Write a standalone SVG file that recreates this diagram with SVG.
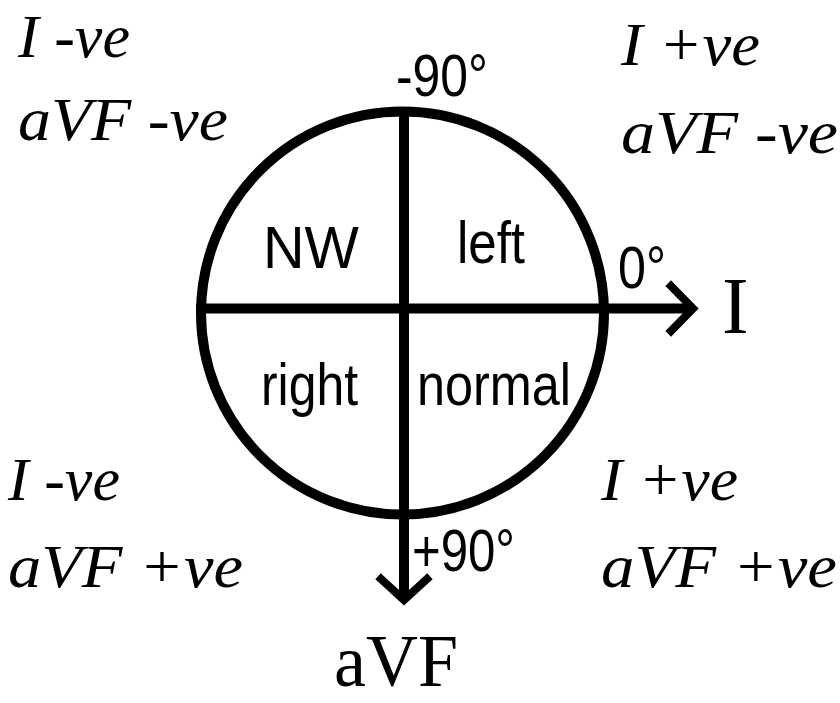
<svg xmlns="http://www.w3.org/2000/svg" width="840" height="703" viewBox="0 0 840 703">
<style>
.ser{font-family:"Liberation Serif","Times New Roman",serif;font-style:italic;font-size:62px;fill:#000}
.san{font-family:"Liberation Sans",Arial,sans-serif;font-size:60px;fill:#000}
.big{font-family:"Liberation Serif","Times New Roman",serif;font-size:80px;fill:#000}
.ln{stroke:#000;stroke-width:10;fill:none}
.ah{stroke:#000;stroke-width:8;fill:none;stroke-linecap:square}
</style>
<rect width="840" height="703" fill="#fff"/>
<g id="circle"><circle cx="402.5" cy="313" r="201.5" class="ln"/></g>
<g id="connectors">
<line x1="196" y1="308.5" x2="692" y2="308.5" class="ln"/>
<polyline points="671,286 693,308.5 671,331" class="ah"/>
<line x1="404" y1="107" x2="404" y2="596" class="ln"/>
<polyline points="381,579 404,600 427,579" class="ah"/>
</g>
<g id="axis-I"><text x="722" y="333" class="big">I</text></g>
<g id="axis-aVF"><text x="334" y="686" class="big" style="font-size:74px" textLength="124" lengthAdjust="spacingAndGlyphs">aVF</text></g>
<g id="angles">
<text x="396" y="96" class="san" textLength="92" lengthAdjust="spacingAndGlyphs">-90°</text>
<text x="618" y="288" class="san" textLength="48" lengthAdjust="spacingAndGlyphs">0°</text>
<text x="412" y="571" class="san" textLength="103" lengthAdjust="spacingAndGlyphs">+90°</text>
</g>
<g id="quadrants">
<text x="263" y="268" class="san" textLength="96" lengthAdjust="spacingAndGlyphs">NW</text>
<text x="457" y="263" class="san" textLength="68" lengthAdjust="spacingAndGlyphs">left</text>
<text x="261" y="405" class="san" textLength="97" lengthAdjust="spacingAndGlyphs">right</text>
<text x="417" y="405" class="san" textLength="154" lengthAdjust="spacingAndGlyphs">normal</text>
</g>
<g id="top-left">
<text x="18" y="57" class="ser" textLength="112" lengthAdjust="spacingAndGlyphs">I -ve</text>
<text x="18" y="140" class="ser" textLength="210" lengthAdjust="spacingAndGlyphs">aVF -ve</text>
</g>
<g id="top-right">
<text x="621" y="65" class="ser" textLength="139" lengthAdjust="spacingAndGlyphs">I +ve</text>
<text x="621" y="153" class="ser" textLength="217" lengthAdjust="spacingAndGlyphs">aVF -ve</text>
</g>
<g id="bottom-left">
<text x="8" y="500" class="ser" textLength="112" lengthAdjust="spacingAndGlyphs">I -ve</text>
<text x="8" y="587" class="ser" textLength="235" lengthAdjust="spacingAndGlyphs">aVF +ve</text>
</g>
<g id="bottom-right">
<text x="601" y="500" class="ser" textLength="137" lengthAdjust="spacingAndGlyphs">I +ve</text>
<text x="601" y="587" class="ser" textLength="236" lengthAdjust="spacingAndGlyphs">aVF +ve</text>
</g>
</svg>
